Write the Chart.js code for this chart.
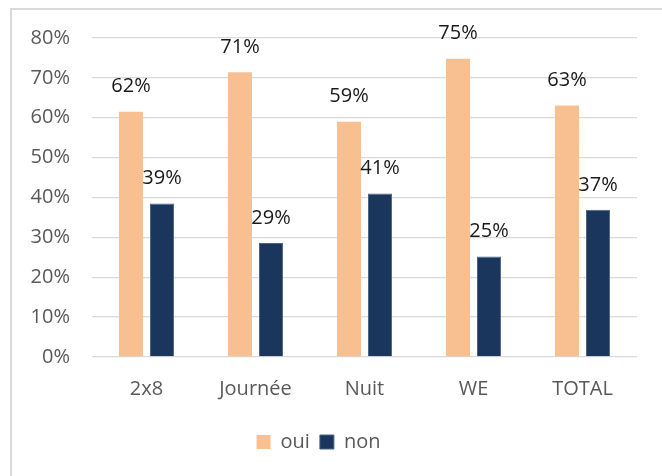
<!DOCTYPE html>
<html>
<head>
<meta charset="utf-8">
<script src="https://cdn.jsdelivr.net/npm/chart.js@4/dist/chart.umd.min.js"></script>
<style>
	html, body { margin: 0; padding: 0; background: #fff; overflow: hidden; }
	#frame { position: absolute; left: 10px; top: 8px; width: 700px; height: 500px; border: 2px solid #d9d9d9; }
	#wrap { position: absolute; left: 0; top: 0; width: 662px; height: 476px; }
</style>
</head>
<body>
<div id="frame"></div>
<div id="wrap"><canvas id="myChart"></canvas></div>
<script>
const categories = ["2x8", "Journée", "Nuit", "WE", "TOTAL"];
const oui = [61.5, 71.4, 59.0, 74.8, 63.1];
const non = [38.5, 28.6, 41.0, 25.2, 36.9];
const yTicks = [0, 10, 20, 30, 40, 50, 60, 70, 80];

const font_family = "'Open Sans', 'Noto Sans', sans-serif";

// draws the % value above each bar
const valueLabels = {
	id: "valueLabels",
	afterDatasetsDraw(chart) {
		const ctx = chart.ctx;
		ctx.save();
		ctx.font = "20px " + font_family;
		ctx.fillStyle = "#1a1a1a";
		ctx.textAlign = "center";
		ctx.textBaseline = "middle";
		chart.data.datasets.forEach((ds, i) => {
			chart.getDatasetMeta(i).data.forEach((bar, j) => {
				ctx.fillText(Math.round(ds.data[j]) + "%", bar.x, bar.y - 25);
			});
		});
		ctx.restore();
	},
};

const ctx = document.getElementById("myChart").getContext("2d");
new Chart(ctx, {
	type: "bar",
	data: {
		labels: categories,
		datasets: [
			{
				label: "oui",
				backgroundColor: "#f8c090",
				borderColor: "#f8c090",
				borderWidth: 0,
				data: oui,
				categoryPercentage: 0.57,
				barPercentage: 0.775,
			},
			{
				label: "non",
				backgroundColor: "#1a365d",
				borderColor: "#4a6488",
				borderWidth: 1,
				data: non,
				categoryPercentage: 0.57,
				barPercentage: 0.775,
			},
		],
	},
	options: {
		responsive: true,
		maintainAspectRatio: false,
		animation: false,
		layout: { padding: { top: 38, right: 25, bottom: 14, left: 0 } },
		plugins: {
			tooltip: { enabled: false },
			legend: {
				position: "bottom",
				labels: {
					boxWidth: 14,
					boxHeight: 14,
					padding: 10,
					color: "#595959",
					font: { size: 20, family: font_family },
				},
			},
		},
		scales: {
			x: {
				grid: { display: false },
				border: { display: false },
				ticks: { color: "#595959", padding: 12, font: { size: 20, family: font_family } },
				afterFit: (scale) => { scale.height = 65; },
			},
			y: {
				min: 0,
				max: 80,
				afterBuildTicks: (scale) => { scale.ticks = yTicks.map((v) => ({ value: v })); },
				grid: { color: "#d9d9d9", lineWidth: 1.3, drawTicks: false },
				border: { display: false },
				ticks: {
					color: "#595959",
					padding: 22,
					font: { size: 20, family: font_family },
					callback: (v) => v + "%",
				},
				afterFit: (scale) => { scale.width = 92; },
			},
		},
	},
	plugins: [valueLabels],
});
</script>
</body>
</html>
